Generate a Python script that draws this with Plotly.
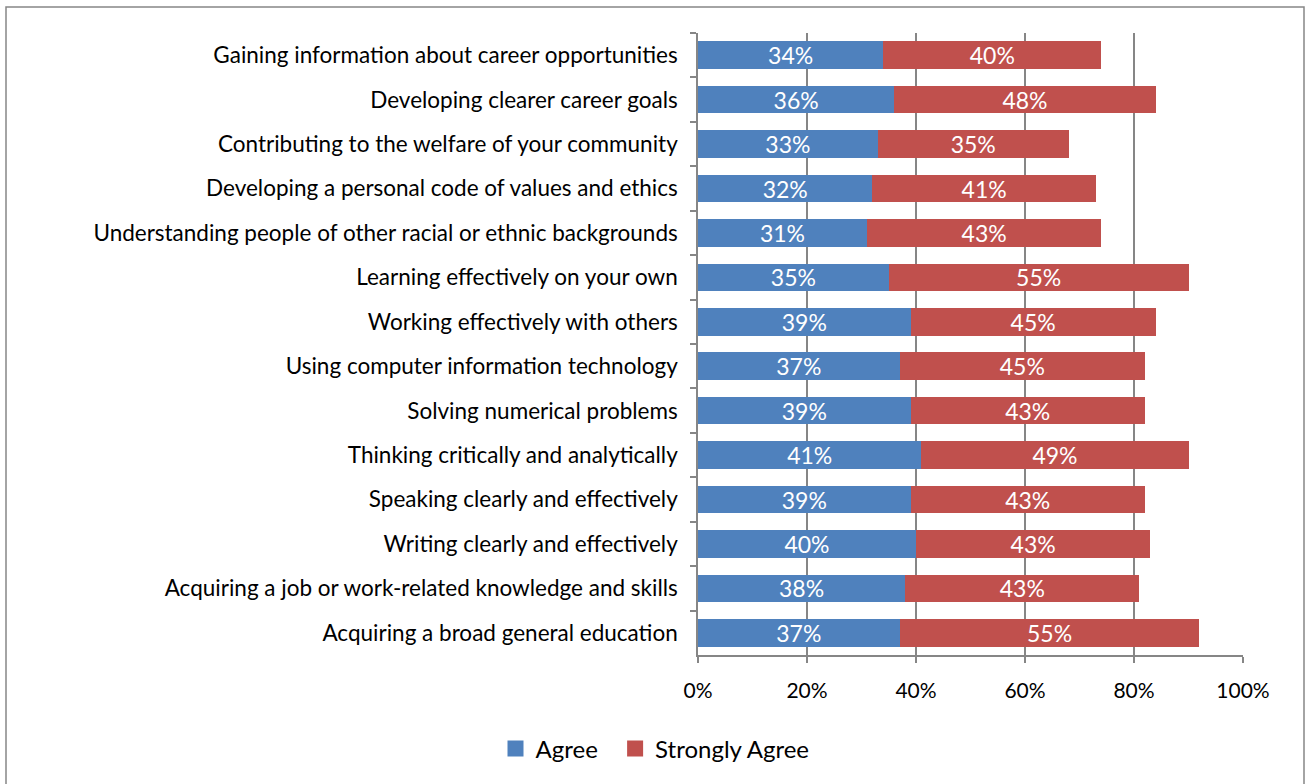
import plotly.graph_objects as go

categories = [
    "Gaining information about career opportunities",
    "Developing clearer career goals",
    "Contributing to the welfare of your community",
    "Developing a personal code of values and ethics",
    "Understanding people of other racial or ethnic backgrounds",
    "Learning effectively on your own",
    "Working effectively with others",
    "Using computer information technology",
    "Solving numerical problems",
    "Thinking critically and analytically",
    "Speaking clearly and effectively",
    "Writing clearly and effectively",
    "Acquiring a job or work-related knowledge and skills",
    "Acquiring a broad general education",
]
agree = [34, 36, 33, 32, 31, 35, 39, 37, 39, 41, 39, 40, 38, 37]
strongly_agree = [40, 48, 35, 41, 43, 55, 45, 45, 43, 49, 43, 43, 43, 55]
x_ticks = [0, 20, 40, 60, 80, 100]
series_names = ["Agree", "Strongly Agree"]
series_colors = ["#4F81BD", "#C0504D"]

FONT = "Lato"
GRID = "#868686"

fig = go.Figure()
for name, vals, col in zip(series_names, [agree, strongly_agree], series_colors):
    fig.add_trace(go.Bar(
        y=categories, x=[v / 100 for v in vals], orientation="h", name=name,
        marker=dict(color=col, line=dict(width=0)), showlegend=False,
        text=[f"{v}%" for v in vals], textposition="inside", insidetextanchor="middle",
        textangle=0, constraintext="none",
        textfont=dict(color="white", size=23, family=FONT),
    ))
# legend entries with square swatches
legend_labels = ["Agree\u00a0\u00a0", "Strongly Agree"]
for name, col in zip(legend_labels, series_colors):
    fig.add_trace(go.Scatter(
        x=[None], y=[None], mode="markers", name=name,
        marker=dict(symbol="square", size=16, color=col),
    ))

W, H = 1306, 784
L, R, T, B = 698, 1243, 33, 655
pw, ph = R - L, B - T

def px(x):
    return (x - L) / pw

def py(y):
    return (B - y) / ph

fig.update_layout(
    width=W, height=H,
    barmode="stack", bargap=0.38,
    margin=dict(l=L, r=W - R, t=T, b=H - B, pad=0),
    paper_bgcolor="white", plot_bgcolor="white",
    font=dict(family=FONT, size=22, color="black"),
    showlegend=True,
    legend=dict(orientation="h", x=px(655), y=py(749), xanchor="center", yanchor="middle",
                font=dict(size=24, family=FONT), itemwidth=30,
                traceorder="normal", itemsizing="trace"),
    xaxis=dict(range=[0, 1], tickvals=[v / 100 for v in x_ticks],
               ticktext=[f"{v}%" for v in x_ticks],
               showgrid=True, gridcolor=GRID, gridwidth=1.5,
               showline=True, linecolor=GRID, linewidth=1.5,
               ticks="outside", ticklen=6, tickcolor=GRID, tickwidth=1.5,
               ticklabelstandoff=10,
               tickfont=dict(size=21), zeroline=False, fixedrange=True),
    yaxis=dict(autorange="reversed", showline=True, linecolor=GRID, linewidth=1.5,
               ticks="outside", ticklen=6, tickcolor=GRID, tickwidth=1.5,
               tickson="boundaries", ticklabelstandoff=14,
               showgrid=False, tickfont=dict(size=22.5)),
    shapes=[dict(type="rect", xref="paper", yref="paper",
                 x0=px(6), x1=px(1304), y0=py(800), y1=py(7),
                 line=dict(color=GRID, width=1.5), fillcolor="rgba(0,0,0,0)", layer="below")],
)

fig.write_html("out.html", config={"displayModeBar": False},
               post_script="document.body.style.margin='0';document.body.style.overflow='hidden';")
